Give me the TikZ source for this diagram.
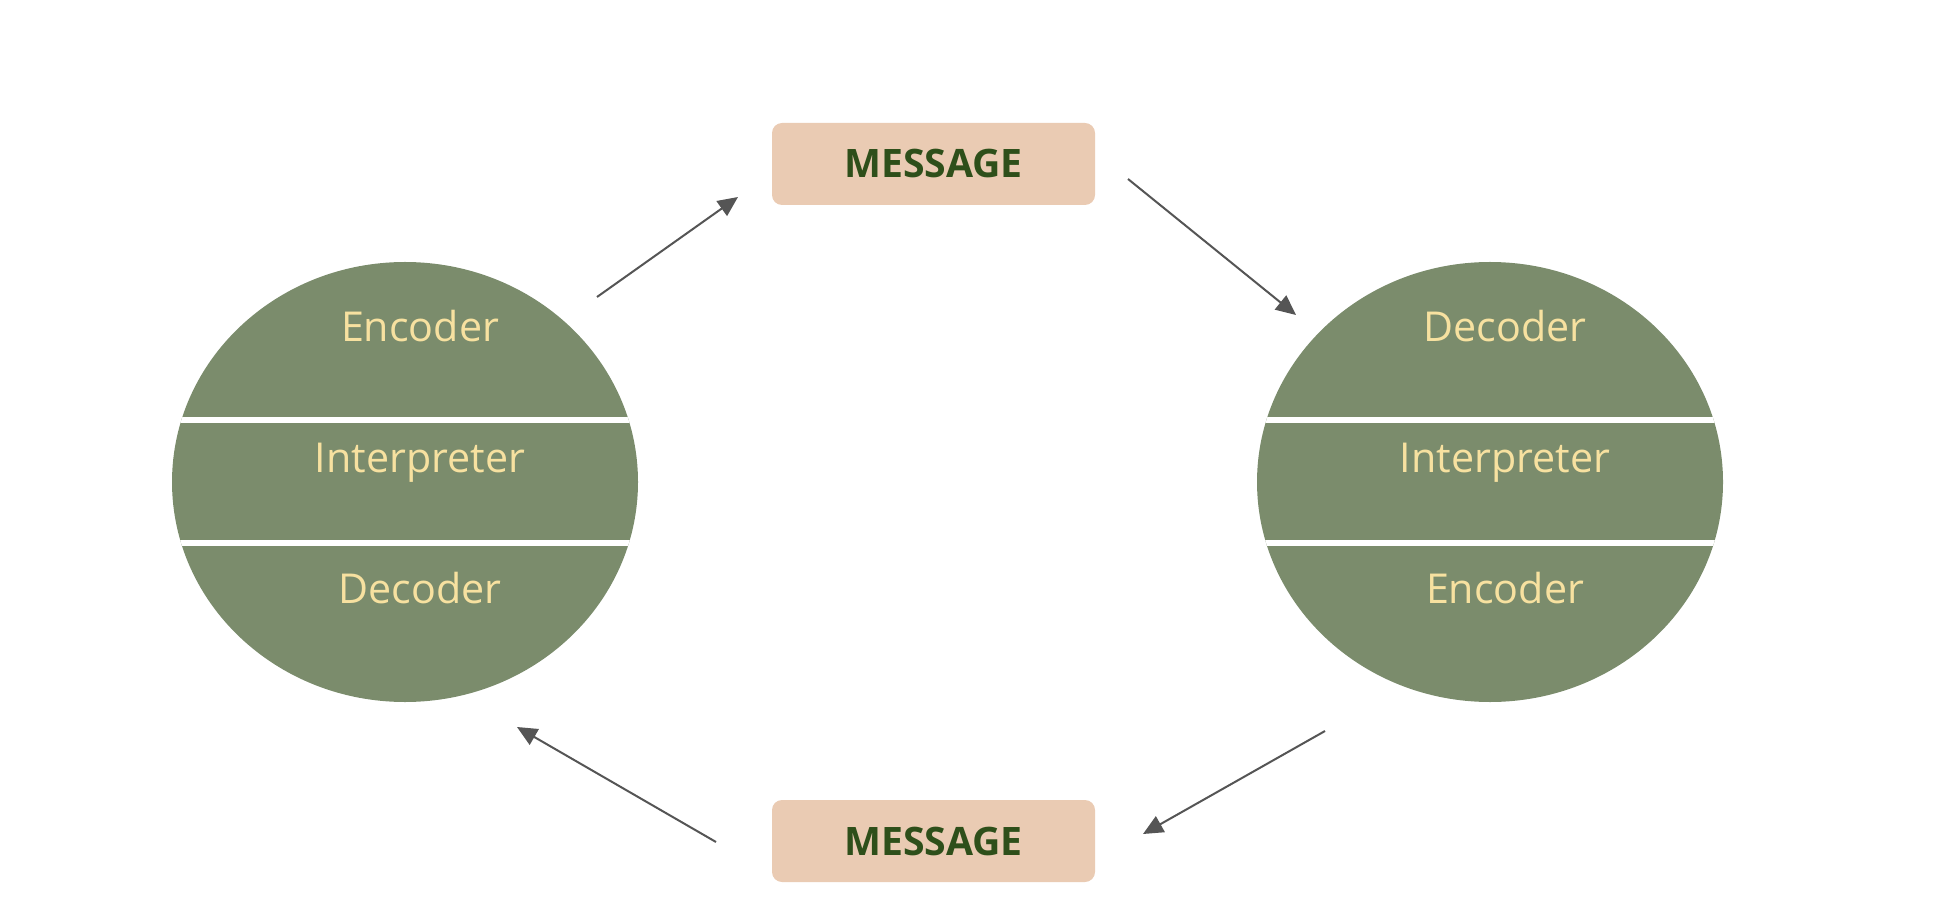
\documentclass[tikz,border=0pt]{standalone}
\usepackage{fontspec}
\setmainfont{Open Sans}
\usetikzlibrary{shapes.geometric,arrows.meta}
\definecolor{sage}{HTML}{7B8C6C}
\definecolor{straw}{HTML}{F7E1A0}
\definecolor{peach}{HTML}{EACBB3}
\definecolor{moss}{HTML}{2E4F1A}
\definecolor{wire}{HTML}{555555}

\begin{document}
\begin{tikzpicture}[x=0.5pt,y=-0.5pt,
	bubble/.style={ellipse,fill=sage,minimum width=233pt,minimum height=220pt,inner sep=0pt},
	layer/.style={anchor=base,text=straw,font=\fontsize{20.6}{23}\selectfont},
	msgbox/.style={fill=peach,rounded corners=5pt,minimum width=161.5pt,minimum height=41pt,
		text=moss,font=\fontsize{19.6}{22}\selectfont\bfseries},
	flow/.style={wire,line width=1pt,-{Triangle[length=10pt,width=9pt]}}]
	\useasboundingbox (0,0) rectangle (1946,908);

	%BUBBLES & LAYERS
	\foreach \n/\c/\ta/\tb in {L/405/Encoder/Decoder,R/1490/Decoder/Encoder}{
	\node[bubble,path picture={
		\draw[white,line width=3pt] ([yshift=31pt]path picture bounding box.west)--([yshift=31pt]path picture bounding box.east);
		\draw[white,line width=3pt] ([yshift=-30.5pt]path picture bounding box.west)--([yshift=-30.5pt]path picture bounding box.east);
		}] (bub\n) at (\c,482) {};
	\node[layer] (top\n) at (\c+15,342) {\ta};
	\node[layer] (mid\n) at (\c+15,473) {Interpreter};
	\node[layer] (bot\n) at (\c+15,603) {\tb};
		} %end foreach

	%MESSAGES
	\node[msgbox] (msgT) at (933.5,164) {MESSAGE};
	\node[msgbox] (msgB) at (933.5,841) {MESSAGE};

	%ARROWS
	\coordinate (a1s) at (597,297);		\coordinate (a1e) at (738,197);
	\coordinate (a2s) at (1128,179);	\coordinate (a2e) at (1296,315);
	\coordinate (a3s) at (1325,731);	\coordinate (a3e) at (1143,834);
	\coordinate (a4s) at (716,842);		\coordinate (a4e) at (517,727);
	\draw[flow] (a1s)--(a1e);
	\draw[flow] (a2s)--(a2e);
	\draw[flow] (a3s)--(a3e);
	\draw[flow] (a4s)--(a4e);
\end{tikzpicture}
\end{document}
